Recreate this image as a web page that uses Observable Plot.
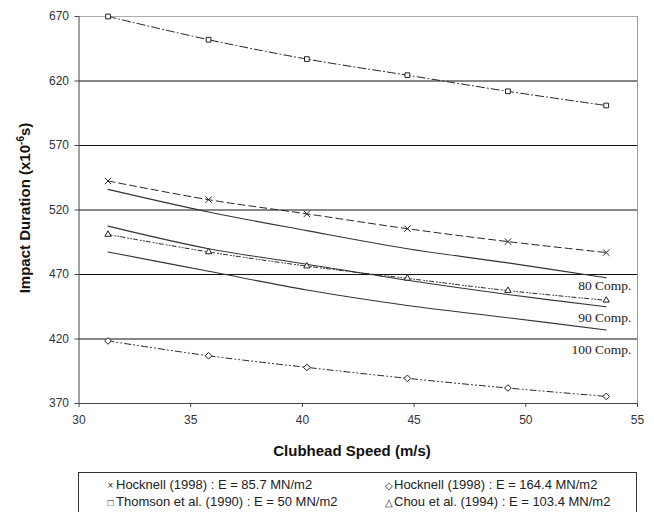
<!DOCTYPE html>
<html>
<head>
<meta charset="utf-8">
<script src="https://cdn.jsdelivr.net/npm/d3@7"></script>
<script src="https://cdn.jsdelivr.net/npm/@observablehq/plot@0.6"></script>
<style>
  html, body { margin: 0; padding: 0; background: #fff; }
  #wrap { position: relative; width: 654px; height: 512px; overflow: hidden; font-family: "Liberation Sans", Arial, sans-serif; }
  #legend { position: absolute; left: 78px; top: 472px; width: 559px; height: 60px; border: 1px solid #333; box-sizing: border-box; font-size: 13px; color: #222; }
  .item { position: absolute; white-space: nowrap; }
  .sym { font-size: 10px; display: inline-block; width: 9px; text-align: center; margin-right: 1px; }
</style>
</head>
<body>
<div id="wrap"><div id="chart"></div><div id="legend"></div></div>
<script>
const speeds = [31.3, 35.8, 40.2, 44.7, 49.2, 53.6];
const thomson = [670, 652, 637, 624.5, 612, 601];
const hocknell857 = [542.5, 528, 517, 505.5, 495.5, 487];
const chou = [501, 487.5, 476.5, 467, 457.5, 450];
const hocknell1644 = [418.5, 407, 398, 389.5, 382, 375.5];
const comp80 = [536, 518.5, 504, 490, 479, 467.5];
const comp90 = [507.5, 490, 478, 465.5, 454.5, 445];
const comp100 = [487.5, 472.5, 458, 446, 436.5, 427];
const compLabels = ["80 Comp.", "90 Comp.", "100 Comp."];
const compLabelY = [461.5, 436.5, 412];
const xTicks = [30, 35, 40, 45, 50, 55];
const yTicks = [370, 420, 470, 520, 570, 620, 670];
const gridY = [420, 470, 520, 570, 620];
const seriesNames = [
  "Hocknell (1998) : E = 85.7 MN/m2",
  "Hocknell (1998) : E = 164.4 MN/m2",
  "Thomson et al. (1990) : E = 50 MN/m2",
  "Chou et al. (1994) : E = 103.4 MN/m2"
];

const toRows = (vals) => speeds.map((s, i) => ({x: s, y: vals[i]}));

const measured = [
  {rows: toRows(hocknell857), symbol: "times", dash: "7,4"},
  {rows: toRows(hocknell1644), symbol: "diamond2", dash: "6,3,1,3,1,3"},
  {rows: toRows(thomson), symbol: "square2", dash: "8,3,1,3"},
  {rows: toRows(chou), symbol: "triangle2", dash: "4,3,1,2,1,2"}
];
const comps = [comp80, comp90, comp100].map(toRows);

const marks = [
  Plot.ruleY(gridY, {stroke: "#111", strokeWidth: 1}),
  Plot.ruleY([670], {stroke: "#aaa", strokeWidth: 1}),
  Plot.ruleX([55], {stroke: "#999", strokeWidth: 1}),
  Plot.ruleX([30], {stroke: "#444", strokeWidth: 1}),
  Plot.ruleY([370], {stroke: "#444", strokeWidth: 1}),
  Plot.axisX({ticks: xTicks, tickSize: 4, tickPadding: 8, label: null, fontSize: 12, stroke: "#444", tickFormat: d => d}),
  Plot.axisY({ticks: yTicks, tickSize: 4, tickPadding: 6, label: null, fontSize: 12, stroke: "#444", tickFormat: d => d})
];
for (const c of comps) {
  marks.push(Plot.line(c, {x: "x", y: "y", stroke: "#333", strokeWidth: 1.1, curve: "catmull-rom"}));
}
for (const m of measured) {
  marks.push(Plot.line(m.rows, {x: "x", y: "y", stroke: "#222", strokeWidth: 1, strokeDasharray: m.dash, curve: "catmull-rom"}));
  marks.push(Plot.dot(m.rows, {x: "x", y: "y", symbol: () => m.symbol, r: 3, stroke: "#222", strokeWidth: 1, fill: "white"}));
}
marks.push(Plot.text(compLabels.map((t, i) => ({t, y: compLabelY[i]})), {
  x: () => 55, y: "y", text: "t", textAnchor: "end", dx: -6,
  fontFamily: "Liberation Serif, Times New Roman, serif", fontSize: 13.5, fill: "#222"
}));

const chart = Plot.plot({
  width: 654, height: 465,
  marginLeft: 78.5, marginRight: 17, marginTop: 16, marginBottom: 62,
  x: {domain: [30, 55]},
  y: {domain: [370, 670]},
  style: {fontFamily: "Liberation Sans, Arial, sans-serif", fontSize: "12px", color: "#333", background: "white"},
  marks
});
document.getElementById("chart").appendChild(chart);

const svg = d3.select(chart);
svg.append("text")
  .attr("x", 352).attr("y", 456)
  .attr("text-anchor", "middle")
  .attr("font-weight", "bold").attr("font-size", 15)
  .attr("font-family", "Liberation Sans, Arial, sans-serif")
  .attr("fill", "#111")
  .text("Clubhead Speed (m/s)");
const yl = svg.append("text")
  .attr("transform", "translate(30,208) rotate(-90)")
  .attr("text-anchor", "middle")
  .attr("font-weight", "bold").attr("font-size", 15)
  .attr("font-family", "Liberation Sans, Arial, sans-serif")
  .attr("fill", "#111");
yl.append("tspan").text("Impact Duration (x10");
yl.append("tspan").attr("font-size", 10).attr("dy", -6).text("-6");
yl.append("tspan").attr("dy", 6).text("s)");

const legend = document.getElementById("legend");
const legSyms = ["×", "◇", "□", "△"];
const pos = [[27, 4], [305, 4], [27, 21], [305, 21]];
seriesNames.forEach((n, i) => {
  const d = document.createElement("div");
  d.className = "item";
  d.style.left = pos[i][0] + "px";
  d.style.top = pos[i][1] + "px";
  d.innerHTML = '<span class="sym">' + legSyms[i] + '</span>' + n;
  legend.appendChild(d);
});
</script>
</body>
</html>
